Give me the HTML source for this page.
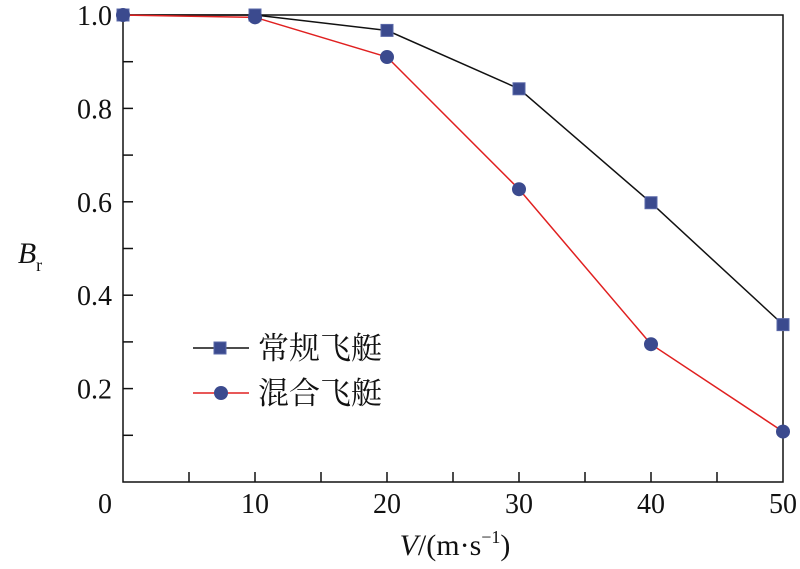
<!DOCTYPE html>
<html><head><meta charset="utf-8"><style>
body{margin:0;background:#fff}
text{font-family:"Liberation Serif","Noto Serif CJK SC",serif;fill:#111}
</style></head><body>
<svg width="800" height="564" viewBox="0 0 800 564">
<g id="axes"></g><g id="series"></g>
<g>
<line x1="193" y1="348" x2="249" y2="348" stroke="#111" stroke-width="1.5"/>
<rect x="214" y="342" width="12" height="12" fill="#3b4a8e" stroke="#5a68a8"/>
<text x="258" y="359" font-size="31">常规飞艇</text>
<line x1="193" y1="393" x2="249" y2="393" stroke="#e02020" stroke-width="1.5"/>
<circle cx="221" cy="393" r="7" fill="#3b4a8e"/>
<text x="258" y="404" font-size="31">混合飞艇</text>
</g>
<text x="455" y="555" font-size="30" text-anchor="middle"><tspan font-style="italic">V</tspan>/(m·s<tspan font-size="18" dy="-12">−1</tspan><tspan dy="12">)</tspan></text>
<text x="30" y="263" font-size="30" font-style="italic" text-anchor="middle">B<tspan font-style="normal" font-size="18" dy="8">r</tspan></text>
</svg>
<script>
const xs=[0,10,20,30,40,50];
const conventional=[1.0,1.0,0.967,0.842,0.598,0.337];
const hybrid=[1.0,0.995,0.91,0.627,0.295,0.108];
const xTicks=[0,10,20,30,40,50];
const yTicks=[0.2,0.4,0.6,0.8,1.0];
const yTickLabels=["0.2","0.4","0.6","0.8","1.0"];
const NS="http://www.w3.org/2000/svg";
const L=123,R=783,T=15,B=482;
const sx=v=>L+(v/50)*(R-L), sy=v=>B-v*(B-T);
function mk(tag,attrs,parent){const e=document.createElementNS(NS,tag);for(const k in attrs)e.setAttribute(k,attrs[k]);parent.appendChild(e);return e;}
const ax=document.getElementById('axes');
const frame=mk('rect',{x:L,y:T,width:R-L,height:B-T,fill:'none',stroke:'#111','stroke-width':1.5},ax);


for(let v=5;v<50;v+=5){mk('line',{x1:sx(v),y1:B,x2:sx(v),y2:B-10,stroke:'#111','stroke-width':1.5},ax);}
for(let i=1;i<10;i++){mk('line',{x1:L,y1:sy(i/10),x2:L+10,y2:sy(i/10),stroke:'#111','stroke-width':1.5},ax);}
xTicks.forEach(v=>{const t=mk('text',{x:sx(v)-(v===0?18:0),y:513,'font-size':28,'text-anchor':'middle'},ax);t.textContent=v;

});
yTicks.forEach((v,i)=>{const t=mk('text',{x:112,y:sy(v)+10,'font-size':28,'text-anchor':'end'},ax);t.textContent=yTickLabels[i];

});
const sg=document.getElementById('series');
function draw(vals,color,shape,name){
const g=mk('g',{},sg);


mk('polyline',{points:xs.map((x,i)=>sx(x)+','+sy(vals[i])).join(' '),fill:'none',stroke:color,'stroke-width':1.5},g);
xs.forEach((x,i)=>{let m;
if(shape==='sq')m=mk('rect',{x:sx(x)-6,y:sy(vals[i])-6,width:12,height:12,fill:'#3b4a8e',stroke:'#5a68a8'},g);
else m=mk('circle',{cx:sx(x),cy:sy(vals[i]),r:7,fill:'#3b4a8e'},g);

});
}
draw(conventional,'#111','sq','conventional-series');
draw(hybrid,'#e02020','ci','hybrid-series');
</script>
</body></html>
